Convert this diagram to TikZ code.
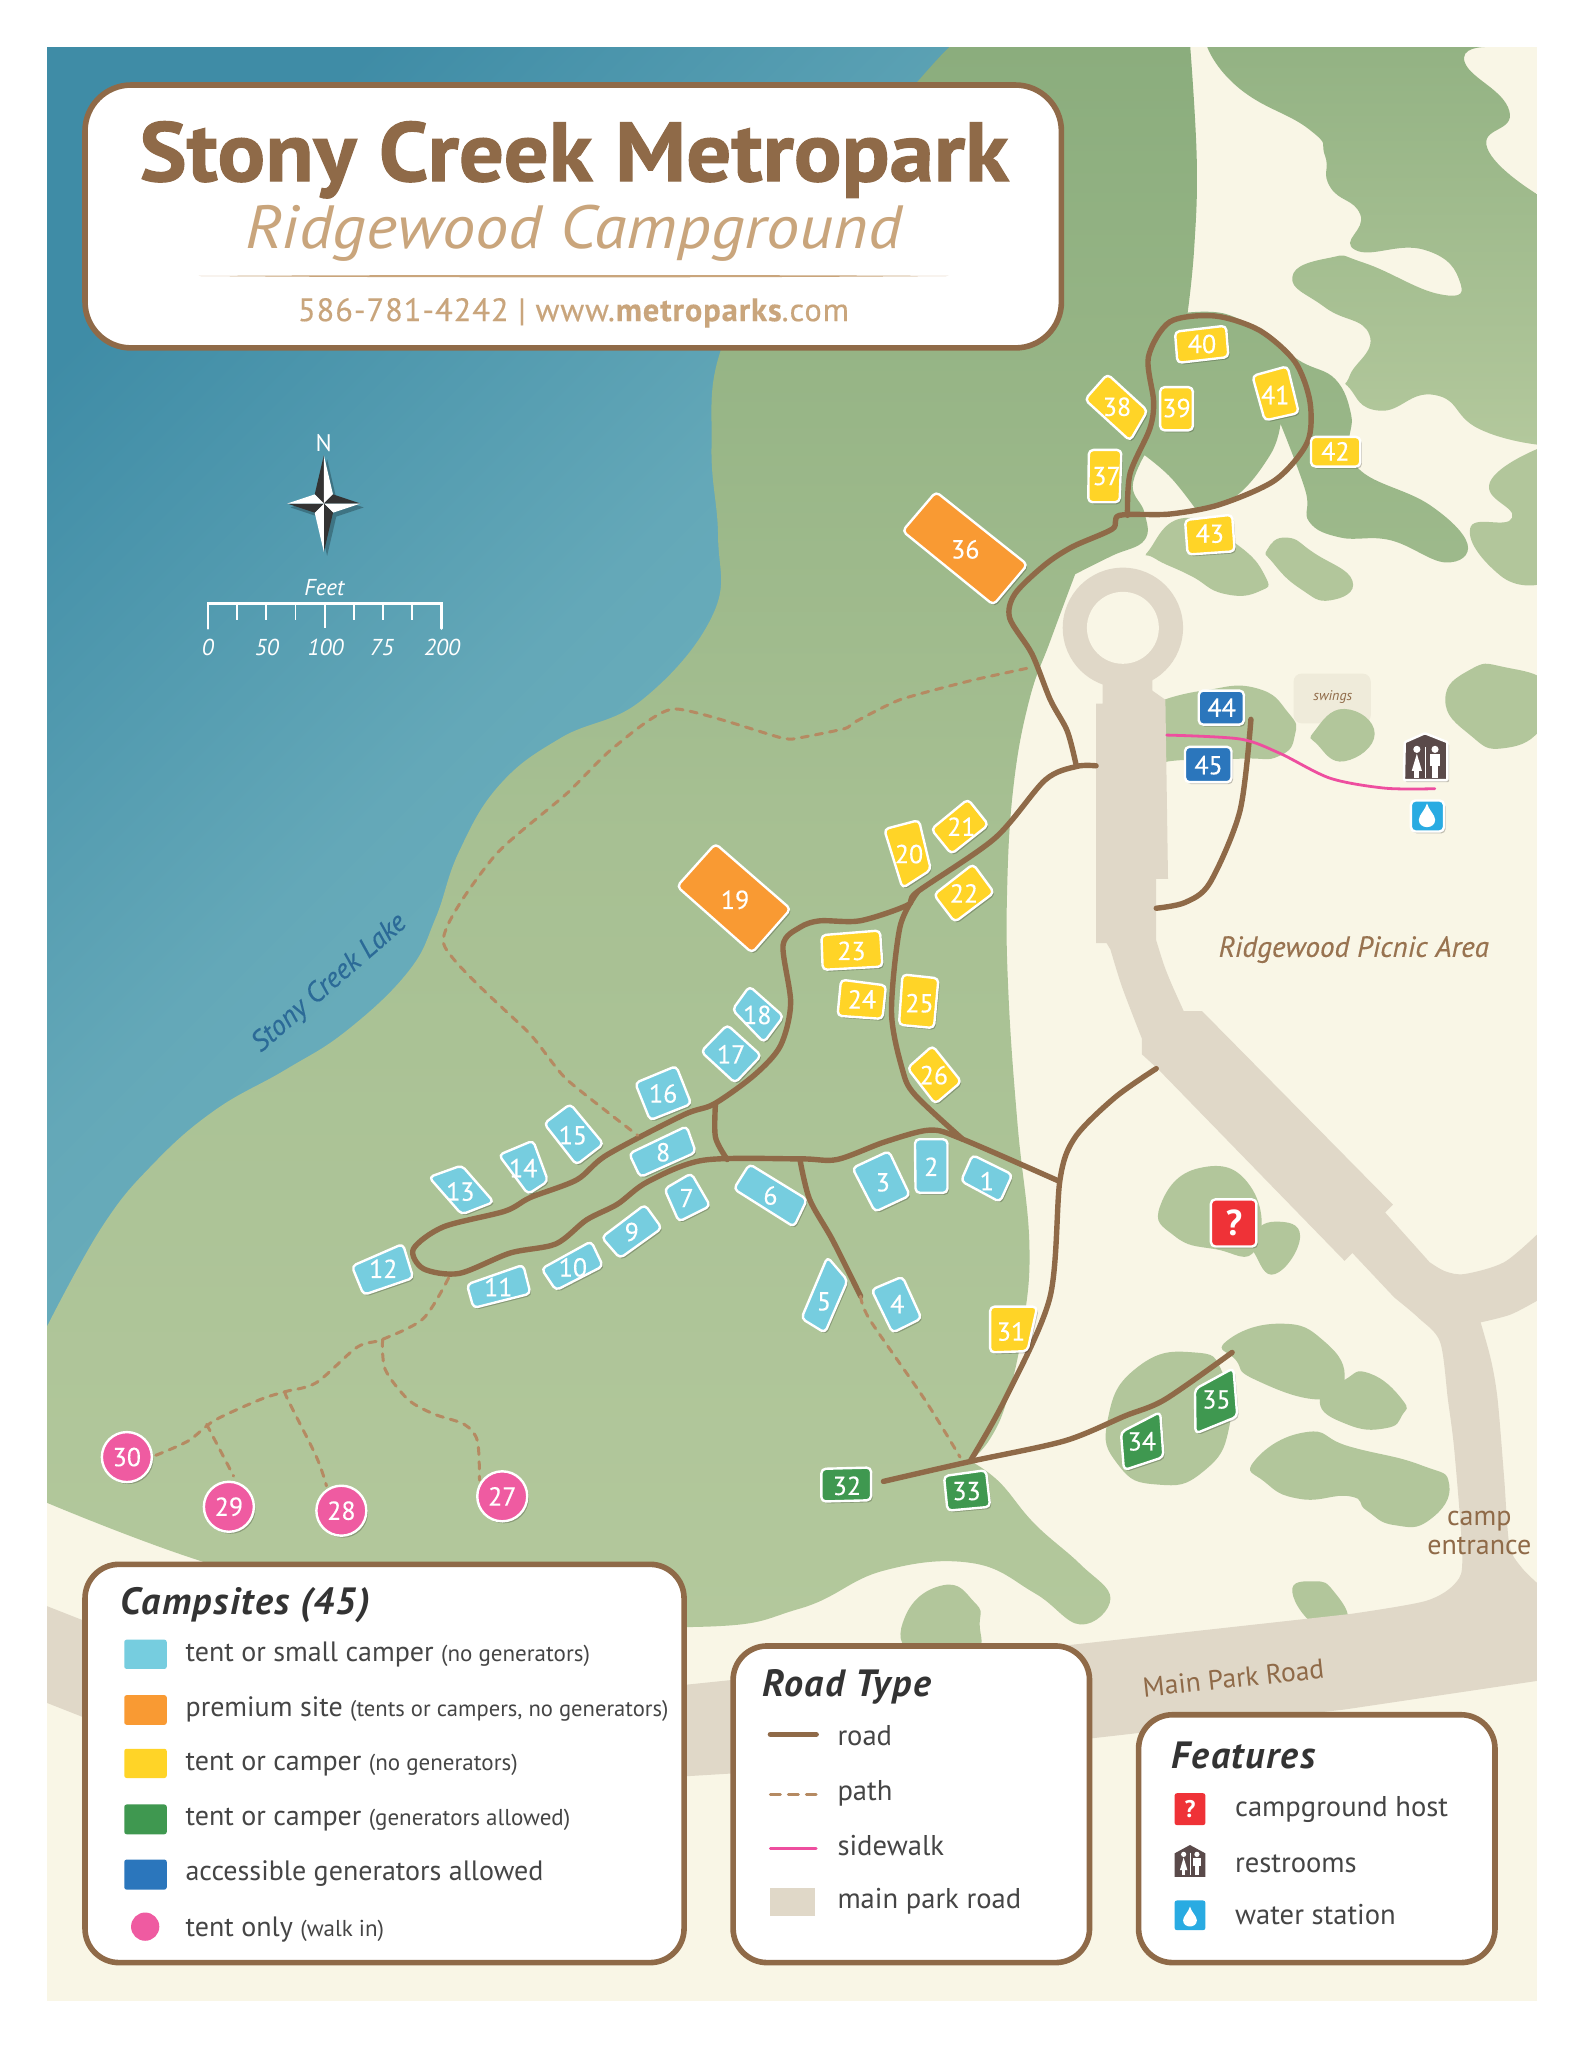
\documentclass[tikz,border=0pt]{standalone}
\usepackage{fontspec}
\setmainfont{PT Sans}
\usetikzlibrary{shadows}
\definecolor{cream}{HTML}{F9F6E6}
\definecolor{parkroad}{HTML}{E0D8C8}
\definecolor{brownroad}{HTML}{8F6A48}
\definecolor{tan}{HTML}{C9A57C}
\definecolor{pathc}{HTML}{B58A62}
\definecolor{lakeA}{HTML}{3F8CA6}
\definecolor{lakeM}{HTML}{64A8B8}
\definecolor{lakeB}{HTML}{72B6C0}
\definecolor{forA}{HTML}{8BAD7D}
\definecolor{forB}{HTML}{B3C89C}
\definecolor{blob}{HTML}{B2C69B}
\definecolor{swing}{HTML}{EFEBDA}
\definecolor{sblue}{HTML}{76CDDF}
\definecolor{sorange}{HTML}{F99A33}
\definecolor{syellow}{HTML}{FFD427}
\definecolor{sgreen}{HTML}{3F9850}
\definecolor{saccess}{HTML}{2B76BC}
\definecolor{spink}{HTML}{EF5BA1}
\definecolor{sred}{HTML}{EF3237}
\definecolor{swater}{HTML}{29ABE2}
\definecolor{wc}{HTML}{5A4A4A}
\definecolor{ink}{HTML}{333333}
\definecolor{legtext}{HTML}{454545}
\definecolor{sidew}{HTML}{EE4E9F}
\definecolor{laketext}{HTML}{2B6A97}
\newfontfamily\numfont[FakeBold=0.3]{PT Sans}
\newfontfamily\semiital[FakeBold=0.3,ItalicFont={PT Sans Italic}]{PT Sans Italic}
\newfontfamily\semifont[FakeBold=0.35,LetterSpace=3]{PT Sans}
\tikzset{
  roadline/.style={draw=brownroad,line width=2.7pt,line cap=round,line join=round},
  pathline/.style={draw=pathc,line width=1.5pt,line cap=round,dash pattern=on 3.6pt off 3.6pt},
  walkline/.style={draw=sidew,line width=1.4pt,line cap=round},
  softshadow/.style={drop shadow={shadow xshift=.8pt,shadow yshift=-1pt,opacity=.22,fill=black}},
  sitebox/.style={draw=white,line width=1.2pt,rounded corners=2.2pt,line join=round,softshadow},
  sitenum/.style={text=white,font=\numfont\fontsize{13}{13}\selectfont,inner sep=0pt},
  ringsite/.style={circle,draw=white,line width=1.2pt,minimum size=25pt,inner sep=0pt,fill=spink,softshadow,text=white,font=\numfont\fontsize{13}{13}\selectfont},
  panel/.style={draw=brownroad,fill=white,line width=2.8pt,softshadow},
  lgtitle/.style={anchor=base west,inner sep=0pt,text=ink,font=\fontsize{19}{19}\selectfont\bfseries\itshape\addfontfeature{LetterSpace=4}},
  lgtext/.style={anchor=base west,inner sep=0pt,text=legtext,font=\fontsize{14}{14}\selectfont},
  lgtextb/.style={anchor=base west,inner sep=0pt,text=legtext,font=\fontsize{14.3}{14.3}\selectfont},
  swatch/.style={rounded corners=1.2pt},
  blobfill/.style={fill=blob,tension=.9},
}
\newcommand{\site}[4]{\path[sitebox,fill=#2] #4 -- cycle; \node[sitenum] (s#1) at (#3) {#1};}
\newcommand{\wcicon}[2]{%
  \begin{scope}[shift={(#1)},scale=#2]
    \fill[white] (-3.2,-6.6) circle[radius=2.1];
    \fill[white] (7.5,-6.6) circle[radius=2.1];
    \fill[white] (-3.2,-4) -- (-6.2,6) -- (-0.2,6) -- cycle;
    \fill[white] (-4.6,5) rectangle (-1.8,10);
    \fill[white] (4.6,-4) rectangle (10.4,3);
    \fill[white] (5.6,3) rectangle (9.4,10);
    \draw[white,line width=.5pt] (2,-8) -- (2,10);
  \end{scope}}
\newcommand{\dropicon}[2]{%
  \fill[white,shift={(#1)},scale=#2] (0,-7) .. controls (-1,-3) and (-5,0) .. (-5,3) .. controls (-5,6) and (-2.5,7.5) .. (0,7.5) .. controls (2.5,7.5) and (5,6) .. (5,3) .. controls (5,0) and (1,-3) .. (0,-7) -- cycle;}
\begin{document}
\begin{tikzpicture}[x=0.65405pt,y=-0.65405pt]
\useasboundingbox (0,0) rectangle (1210.3,1565.8);
\fill[white] (0,0) rectangle (1210.3,1565.8);
\fill[cream] (36,36) rectangle (1175,1530);
\begin{scope}
\clip (36,36) rectangle (1175,1530);
% lake
\shade[top color=lakeA,bottom color=lakeB,shading angle=45,middle color=lakeM] (36,36) -- (726,36) -- (600,300) -- (600,500) -- (400,700) -- (150,950) -- (36,1020) -- cycle;
% main forest
\shade[top color=forA,bottom color=forB,middle color=forA!30!forB,tension=.7]
 (726,36) -- (910,36)
 -- plot[smooth] coordinates {(910,36)(915,123)(913,190)(908,239)}
 -- plot[smooth] coordinates {(908,239)(937,240)(965,255)(994,276)(1021,290)(1033,317)(1032,340)(1043,362)(1093,386)(1122,416)(1105,430)(1063,413)(1025,411)(1001,399)(998,375)(979,324)}
 -- plot[smooth] coordinates {(979,324)(971,348)(944,380)(914,389)}
 -- plot[smooth] coordinates {(914,389)(895,365)(875,348)}
 -- plot[smooth] coordinates {(875,348)(866,372)(875,392)(875,413)(850,425)(822,439)}
 -- plot[smooth] coordinates {(822,439)(803,490)(787,535)(775,600)(770,680)(771,760)(778,860)(787,951)(782,1015)(770,1070)(757,1100)(742,1117)}
 -- plot[smooth] coordinates {(742,1117)(764,1133)(791,1165)(826,1196)(849,1222)(826,1242)(791,1218)(743,1195)(675,1201)(611,1230)(525,1244)(300,1235)(152,1193)(36,1149)}
 -- (36,1014)
 -- plot[smooth] coordinates {(36,1014)(78,938)(117,890)(164,849)(218,818)(265,788)(312,743)(333,702)(351,651)(382,600)(429,564)(491,535)(545,470)(549,410)(544,341)(552,265)(600,180)(701,63)(726,36)}
 -- cycle;
% upper right forest
\shade[top color=forA!80!forB,bottom color=forB,tension=.9]
 (923,36) -- plot[smooth] coordinates {(923,36)(948,68)(1001,99)(1013,119)(1017,143)(1040,164)(1036,191)(1089,191)(1116,215)(1101,225)(1043,201)(1017,197)(988,212)(1013,235)(1047,256)(1032,287)(1032,297)(1055,314)(1097,302)(1131,328)(1176,340)}
 -- (1176,149) -- plot[smooth] coordinates {(1176,149)(1137,113)(1154,85)(1120,48)(1135,36)} -- cycle;
% blobs
\fill[blobfill] (1176,343) -- plot[smooth] coordinates {(1176,343)(1139,369)(1156,396)(1124,404)(1147,440)(1176,447)} -- cycle;
\fill[blobfill] plot[smooth cycle] coordinates {(879,420)(906,396)(944,415)(967,440)(963,452)(936,454)(910,440)(883,427)};
\fill[blobfill] plot[smooth cycle] coordinates {(969,420)(984,411)(1005,423)(1034,444)(1017,459)(994,450)(973,430)};
\fill[blobfill] plot[smooth cycle] coordinates {(1105,535)(1124,512)(1150,510)(1185,525)(1180,555)(1150,572)(1124,562)};
\fill[blobfill] (890,583) -- (890,535) -- plot[smooth] coordinates {(890,535)(920,528)(960,526)(985,545)(990,562)(978,578)(950,580)(906,581)(890,583)} -- cycle;
\fill[blobfill] plot[smooth cycle] coordinates {(887,922)(917,893)(956,907)(960,955)(929,955)(898,945)};
\fill[blobfill] plot[smooth cycle] coordinates {(957,945)(975,934)(994,945)(975,974)(959,958)};
\fill[blobfill] plot[smooth cycle] coordinates {(847,1085)(870,1045)(913,1034)(935,1050)(940,1090)(920,1125)(885,1135)(855,1120)};
\fill[blobfill] plot[smooth cycle] coordinates {(937,1026)(978,1012)(1013,1026)(1028,1055)(1010,1070)(960,1055)(945,1040)};
\fill[blobfill] plot[smooth cycle] coordinates {(1028,1055)(1047,1050)(1072,1070)(1072,1082)(1059,1092)(1030,1089)(1009,1072)};
\fill[blobfill] plot[smooth cycle] coordinates {(959,1117)(998,1095)(1032,1106)(1086,1120)(1108,1135)(1093,1162)(1066,1166)(1045,1155)(1032,1144)(994,1146)(967,1133)};
\fill[blobfill] plot[smooth cycle] coordinates {(988,1217)(1005,1209)(1020,1217)(1030,1240)(1009,1245)};
\fill[blobfill] plot[smooth cycle] coordinates {(692,1236)(721,1212)(745,1225)(749,1241)(743,1265)(699,1265)};
% park road
\fill[parkroad] (36,1228) -- (64,1239) -- (300,1320) -- (525,1288) -- (824,1257) -- (1032,1234)
 -- plot[smooth] coordinates {(1032,1234)(1090,1224)(1113,1210)(1118,1190)(1112,1110)(1107,1070)(1101,1026)(1085,1008)(1066,992)}
 -- (1034,958) -- (1028,964) -- (885,817) -- (873,806) -- (873,794)
 -- plot[smooth] coordinates {(873,794)(858,755)(849,726)}
 -- (846,721) -- (838,721) -- (838,538) -- (843,538) -- (843,500) -- (881,500) -- (881,528) -- (891,535) -- (893,672) -- (884,672) -- (884,719)
 -- plot[smooth] coordinates {(884,719)(890,738)(896,753)(905,773)}
 -- (919,773) -- (1065,921) -- (1059,927) -- (1093,965)
 -- plot[smooth] coordinates {(1093,965)(1105,972)(1120,974)(1150,965)(1176,943)}
 -- (1176,994)
 -- plot[smooth] coordinates {(1176,994)(1155,1005)(1132,1011)}
 -- plot[smooth] coordinates {(1132,1011)(1140,1040)(1145,1070)(1150,1130)(1154,1181)(1163,1198)(1176,1211)}
 -- (1176,1285) -- (1028,1307) -- (835,1329) -- (558,1356) -- (525,1358) -- (300,1370) -- (64,1313) -- (36,1302) -- cycle;
\fill[parkroad] (858.5,480) circle[radius=46];
\fill[cream] (858.5,480) circle[radius=27.5];
\end{scope}
% swings
\fill[swing,rounded corners=4pt] (989,515) rectangle (1048,553);
\node[inner sep=0pt,text=brownroad,font=\fontsize{7}{7}\selectfont\itshape] (swings) at (1019,533) {swings};
\fill[blobfill] plot[smooth cycle] coordinates {(1005,559)(1028,542)(1051,561)(1028,582)(1007,569)};
% roads
\path[roadline] plot[smooth] coordinates {(862,394)(864,362)(879,328)(882,307)(878,273)(894.5,246)(929,241.6)(963,252.6)(990,276.5)(1001.5,307)(999.6,338)(975,367)(932.7,385.7)(894.5,393)(856,394)(850.5,404.4)(820,418)(799,431.7)(776,454)(772,472.7)(789,500)(803,535)(816,559)(823,586)};
\path[roadline] plot[smooth] coordinates {(838,585.5)(823,586)(799,596.4)(760.7,640.8)(701.4,681.8)(693.8,692)(657.5,704)(627,704)(611.6,709)(598.7,722.7)(604.5,767)(596.7,799.5)(577,821.7)(546,844)(522.6,852.4)(464,883)(441,902)(405.6,915.5)(386,926)(339,938)(316,955)(323.7,970)(351,973.6)(390,958)(425,951)(448.5,932.6)(472,920.7)(495,903.6)(538,887)(611.6,886)(640,886.5)(676.6,873)(711,864)(736,871)(809.6,903)};
\path[roadline] plot[smooth] coordinates {(547,844)(547,869.5)(556,886.5)};
\path[roadline] plot[smooth] coordinates {(701.4,682)(688,709)(681.6,774)(690,818)(699.5,837)(736,871)};
\path[roadline] plot[smooth] coordinates {(884,817)(852.5,839)(822,869.5)(810.4,902)(802.7,992)(768.3,1070)(741.6,1117.4)};
\path[roadline] plot[smooth] coordinates {(611.6,886.5)(619,917)(636.5,948)(658,991)};
\path[roadline] plot[smooth] coordinates {(675.4,1132.6)(741.6,1117.4)(814,1101.6)(860,1082.6)(890.6,1070)(942,1034)};
\path[roadline] plot[smooth] coordinates {(956.4,550)(948,620)(925,675)(906,690)(884,694.4)};
\path[walkline] plot[smooth] coordinates {(892,562)(948,565)(978.6,576)(1017,595)(1059,602.6)(1097,603)};
% paths
\path[pathline] plot[smooth] coordinates {(658,991)(665,1009)(707,1070)(734,1114)};
\path[pathline] plot[smooth,tension=.35] coordinates {(785,511)(741.6,520.5)(688,535)(653.6,552)(646,557)(611.6,564)(597,564)(515,542)(468,572.5)(433,607)(378,654.5)(339,721)(405.6,791)(433,825)(487.5,868)};
\path[pathline] plot[smooth] coordinates {(343,977)(323.7,1008)(292.5,1024)(273,1030)(242,1057)(218,1064)(199,1070)(164,1086)(144,1101.6)(119,1112.7)};
\path[pathline] plot[smooth] coordinates {(292.5,1024)(294.5,1047)(312,1070)(331.5,1081)(355,1089)(365,1101.6)(366.6,1131.6)};
\path[pathline] plot[smooth] coordinates {(218,1064)(220,1070)(242,1114)(249.6,1136)};
\path[pathline] plot[smooth] coordinates {(158,1089)(178.6,1128.5)};
% sites
\site{1}{sblue}{754.5,903}{(743.5,883) -- (774,898) -- (764.5,919) -- (734.7,903)}
\site{2}{sblue}{712,892}{(699.5,871) -- (724.4,871) -- (724.4,912) -- (700,912)}
\site{3}{sblue}{675,904}{(679.6,880) -- (695.7,914) -- (669,926.5) -- (651.7,893)}
\site{4}{sblue}{686,997}{(690,976) -- (704.5,1008) -- (682.3,1019) -- (666.3,986)}
\site{5}{sblue}{630,995}{(632.6,961) -- (648,979) -- (630.7,1019) -- (612.7,1008)}
\site{6}{sblue}{589,914}{(573,890) -- (617,917) -- (607,938) -- (561,909)}
\site{7}{sblue}{525,916}{(528.5,897) -- (543,922) -- (519,934) -- (508,909)}
\site{8}{sblue}{507,881}{(525,861) -- (532,881) -- (489.5,900) -- (481,882)}
\site{9}{sblue}{483,942}{(493,921) -- (506,939) -- (474,962) -- (460,946)}
\site{10}{sblue}{438,969}{(452,949) -- (461,968) -- (425,986.5) -- (414,970)}
\site{11}{sblue}{381,984}{(400,967) -- (405.6,989) -- (362,1000) -- (357,982)}
\site{12}{sblue}{293,970}{(308,951) -- (316,977) -- (278,990) -- (269,968)}
\site{13}{sblue}{352,911}{(353,891) -- (377.5,919) -- (353,928.5) -- (328,900)}
\site{14}{sblue}{400,893}{(407.6,872) -- (419,903) -- (403.7,913) -- (381.4,883)}
\site{15}{sblue}{438,868}{(436,844) -- (461.4,874.6) -- (440.7,890.6) -- (416,859)}
\site{16}{sblue}{507,836}{(517,815) -- (528.5,844) -- (497,856.5) -- (485.6,828)}
\site{17}{sblue}{559,806}{(556,783.5) -- (582,807) -- (562,828) -- (536,804)}
\site{18}{sblue}{579,776}{(573,754) -- (599,777) -- (584,797) -- (560,772)}
\site{19}{sorange}{562,688}{(547,645) -- (604.5,695) -- (575,728.5) -- (517.6,677.7)}
\site{20}{syellow}{695,653}{(702.6,627) -- (711.7,665) -- (690,679) -- (676,634)}
\site{21}{syellow}{735,632}{(740,611) -- (755.7,630.6) -- (727.4,653) -- (712,634)}
\site{22}{syellow}{737,683}{(744,660.6) -- (760,682.4) -- (730,705) -- (714,684)}
\site{23}{syellow}{651,727}{(628,715) -- (672.8,711.4) -- (674.7,739) -- (629,741.5)}
\site{24}{syellow}{659,764}{(643,749) -- (677.4,753.4) -- (674.7,779) -- (640.3,776.6)}
\site{25}{syellow}{703,767}{(690,745) -- (717.5,748) -- (714,786) -- (687.3,783.5)}
\site{26}{syellow}{714,822}{(713,799.5) -- (735,827) -- (715,844) -- (693.8,816.6)}
\node[ringsite] (s30) at (97,1114) {30};
\node[ringsite] (s29) at (175,1152) {29};
\node[ringsite] (s28) at (261,1155) {28};
\node[ringsite] (s27) at (384,1144) {27};
\site{31}{syellow}{773,1018}{(757,999) -- (793,999) -- (785.5,1033) -- (757,1034)}
\site{32}{sgreen}{647.5,1136}{(628,1123) -- (666,1122) -- (666,1147) -- (628,1148)}
\site{33}{sgreen}{739,1140}{(721.7,1128.5) -- (753.8,1124) -- (757,1152) -- (724.4,1155)}
\site{34}{sgreen}{873,1102}{(857,1095) -- (887,1079.5) -- (889.5,1114) -- (859.3,1124)}
\site{35}{sgreen}{930,1070}{(913.6,1062) -- (943,1046) -- (946,1083) -- (914,1096)}
\site{36}{sorange}{738,420}{(715.6,376) -- (785.5,431.7) -- (759.5,462.5) -- (690,406)}
\site{37}{syellow}{846,364}{(832.5,344) -- (857.4,344) -- (856,384) -- (832,384)}
\site{38}{syellow}{854,311}{(846.7,286) -- (877.3,314) -- (864,337) -- (829.5,305.5)}
\site{39}{syellow}{899.5,312}{(887,296) -- (912,296) -- (912,329) -- (887,329)}
\site{40}{syellow}{919,263}{(898.3,253.6) -- (937.3,249) -- (939.2,273) -- (900.2,277.5)}
\site{41}{syellow}{975,302}{(957.5,287.4) -- (984.3,280) -- (993,315.7) -- (967,321.5)}
\site{42}{syellow}{1021,345}{(1002.3,334) -- (1040,334) -- (1040,356.7) -- (1002.3,356.7)}
\site{43}{syellow}{925,408}{(906,397.6) -- (942,393.5) -- (944,421.5) -- (908,424)}
\site{44}{saccess}{934,541}{(916.5,528) -- (951,528) -- (951,554) -- (916.5,554)}
\site{45}{saccess}{924,585}{(906,571) -- (941.5,571) -- (941.5,598) -- (906,598)}
% feature icons on map
\path[sitebox,fill=sred] (925.8,917) -- (960.6,917) -- (960.6,953) -- (925.8,953) -- cycle;
\node[inner sep=0pt,text=white,font=\fontsize{18}{18}\selectfont\bfseries] (hostmark) at (943.5,935) {?};
\path[sitebox,fill=wc,rounded corners=.5pt] (1074,567.4) -- (1089.4,560.6) -- (1106.6,567.4) -- (1106.6,596.4) -- (1073.4,596.4) -- cycle;
\wcicon{1087.4,581.5}{1.3}
\path[sitebox,fill=swater] (1078.7,612) -- (1104,612) -- (1104,635.7) -- (1078.7,635.7) -- cycle;
\dropicon{1091,623}{1.25}
% compass
\node[inner sep=0pt,text=white,font=\fontsize{12}{12}\selectfont] (northlabel) at (247.5,339) {N};
\begin{scope}[shift={(247.6,385)}]
  \fill[black,opacity=.25,shift={(2.5,3)}] (0,-37) -- (7,-7) -- (28,0) -- (7,7) -- (0,37) -- (-7,7) -- (-28,0) -- (-7,-7) -- cycle;
  \fill[ink] (0,-37) -- (-7,-7) -- (0,0) -- cycle;
  \fill[white] (0,-37) -- (7,-7) -- (0,0) -- cycle;
  \fill[ink] (28,0) -- (7,-7) -- (0,0) -- cycle;
  \fill[white] (28,0) -- (7,7) -- (0,0) -- cycle;
  \fill[ink] (0,37) -- (7,7) -- (0,0) -- cycle;
  \fill[white] (0,37) -- (-7,7) -- (0,0) -- cycle;
  \fill[ink] (-28,0) -- (-7,7) -- (0,0) -- cycle;
  \fill[white] (-28,0) -- (-7,-7) -- (0,0) -- cycle;
\end{scope}
% scale bar
\node[inner sep=0pt,text=white,font=\fontsize{11.5}{11.5}\selectfont\itshape] (feet) at (248,449) {Feet};
\draw[white,line width=1.3pt,line cap=round] (159,480.5) -- (159,461.5) -- (337.4,461.5) -- (337.4,480.5);
\draw[white,line width=1pt] (248.2,461.5) -- (248.2,480.5);
\foreach \tx in {181.3,203.6,225.9,270.5,292.8,315.1}{\draw[white,line width=.9pt] (\tx,461.5) -- (\tx,474);}
\foreach \lab/\lx in {0/159,50/204,100/249,75/292,200/338}{\node[inner sep=0pt,text=white,font=\fontsize{11.5}{11.5}\selectfont\itshape] (scale\lab) at (\lx,495) {\lab};}
% map labels
\node[inner sep=0pt,rotate=41,text=laketext,font=\semiital\fontsize{14.2}{14.2}\selectfont] (lakename) at (252,752) {Stony Creek Lake};
\node[inner sep=0pt,text=brownroad!85!tan,font=\semiital\fontsize{14.6}{14.6}\selectfont] (picnic) at (1035,726) {Ridgewood Picnic Area};
\node[inner sep=0pt,align=center,text=brownroad,font=\fontsize{14}{14.5}\selectfont] (entrance) at (1131,1172) {camp\\entrance};
\node[inner sep=0pt,rotate=6,text=brownroad,font=\fontsize{13.8}{13.8}\selectfont] (mainroad) at (943,1283) {Main Park Road};
% title panel
\path[panel,rounded corners=23pt] (65,65) rectangle (811.5,266);
\node[anchor=base,inner sep=0pt,xscale=1.06,text=brownroad,font=\fontsize{42}{42}\selectfont\bfseries\addfontfeature{FakeBold=1.2}] (title) at (439,138.5) {Stony Creek Metropark};
\node[anchor=base,inner sep=0pt,xscale=1.09,text=tan,font=\fontsize{30.5}{30.5}\selectfont\itshape] (subtitle) at (438.5,190) {Ridgewood Campground};
\fill[tan] (152,211) .. controls (300,210) and (580,210) .. (725,211) .. controls (580,212.4) and (300,212.4) .. (152,211) -- cycle;
\node[anchor=base,inner sep=0pt,text=tan,font=\semifont\fontsize{16.2}{16.2}\selectfont] (contact) at (438.5,245.5) {586-781-4242 | www.\textbf{metroparks}.com};
% Campsites legend
\path[panel,rounded corners=17pt] (65,1196) rectangle (523,1500.5);
\node[lgtitle] (lgA) at (92,1234) {Campsites (45)};
\fill[swatch,fill=sblue] (95,1253.6) rectangle (127.5,1276);
\fill[swatch,fill=sorange] (95,1296) rectangle (127.5,1318.7);
\fill[swatch,fill=syellow] (95,1337) rectangle (127.5,1359.4);
\fill[swatch,fill=sgreen] (95,1379.6) rectangle (127.5,1402.4);
\fill[swatch,fill=saccess] (95,1421.7) rectangle (127.5,1444.7);
\fill[spink] (111,1473) circle[radius=10.8];
\node[lgtext] (lgA1) at (141.6,1270.5) {tent or small camper {\fontsize{11.5}{11.5}\selectfont (no generators)}};
\node[lgtext] (lgA2) at (141.6,1312.2) {premium site {\fontsize{11.3}{11.3}\selectfont (tents or campers, no generators)}};
\node[lgtext] (lgA3) at (141.6,1353.3) {tent or camper {\fontsize{11.5}{11.5}\selectfont (no generators)}};
\node[lgtext] (lgA4) at (141.6,1395.9) {tent or camper {\fontsize{11.5}{11.5}\selectfont (generators allowed)}};
\node[lgtext] (lgA5) at (141.6,1438) {accessible generators allowed};
\node[lgtext] (lgA6) at (141.6,1480.3) {tent only {\fontsize{11.5}{11.5}\selectfont (walk in)}};
% Road Type legend
\path[panel,rounded corners=17pt] (560.5,1258.4) rectangle (833,1500.5);
\node[lgtitle] (lgB) at (582.5,1297) {Road Type};
\coordinate (rA) at (589,1326); \coordinate (rB) at (624,1326);
\path[roadline] (rA) -- (rB);
\coordinate (pA) at (589,1372); \coordinate (pB) at (624,1372);
\path[pathline,dash pattern=on 5pt off 4pt] (pA) -- (pB);
\coordinate (wA) at (589,1413); \coordinate (wB) at (624,1413);
\path[walkline] (wA) -- (wB);
\fill[parkroad] (589,1443.5) rectangle (623,1465);
\node[lgtextb] (lgB1) at (640,1334.5) {road};
\node[lgtextb] (lgB2) at (640,1376.5) {path};
\node[lgtextb] (lgB3) at (640,1418.5) {sidewalk};
\node[lgtextb] (lgB4) at (640,1459) {main park road};
% Features legend
\path[panel,rounded corners=17pt] (870.5,1311) rectangle (1143,1500.5);
\node[lgtitle] (lgC) at (895.5,1352) {Features};
\fill[swatch,fill=sred] (898,1371) rectangle (921.6,1395.4);
\node[inner sep=0pt,text=white,font=\fontsize{12}{12}\selectfont\bfseries] (lgCq) at (909.8,1383) {?};
\fill[wc] (898,1417) -- (909.8,1410.6) -- (921.6,1417) -- (921.6,1435) -- (898,1435) -- cycle;
\wcicon{908,1424}{.95}
\fill[swatch,fill=swater] (898,1453) rectangle (921.6,1475.7);
\dropicon{909.8,1465}{1.05}
\node[lgtextb] (lgC1) at (944,1389) {campground host};
\node[lgtextb] (lgC2) at (944,1431.5) {restrooms};
\node[lgtextb] (lgC3) at (944,1471.5) {water station};
\end{tikzpicture}
\end{document}
